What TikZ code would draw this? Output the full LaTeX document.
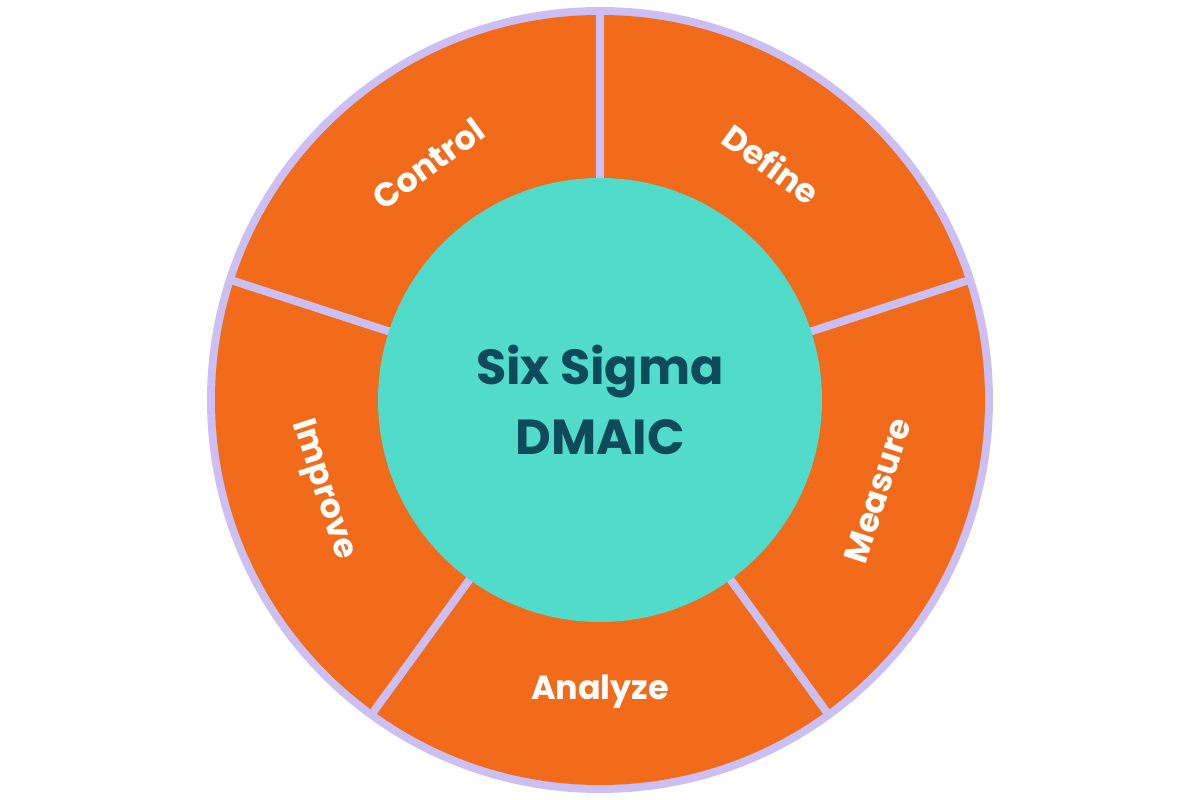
\documentclass[tikz,border=0pt]{standalone}
\usepackage{fontspec}
\setmainfont{Poppins}
\definecolor{ring}{HTML}{F26B1B}
\definecolor{rim}{HTML}{CBBFF3}
\definecolor{core}{HTML}{50DBCA}
\definecolor{ink}{HTML}{0E4A59}
\tikzset{
  phase/.style = {text = white, font = \bfseries\fontsize{9.5}{11}\selectfont}
}
\begin{document}
\begin{tikzpicture}

    \useasboundingbox (-6,-4) rectangle (6,4);

    % rim and orange ring
    \fill[rim] (0,0) circle (3.93);
    \fill[ring] (0,0) circle (3.85);

    % separators between the five steps
    \foreach \a in {90,18,-54,-126,162}
      \draw[rim, line width = 0.08cm] (\a:2.1) -- (\a:3.9);

    \node[circle,
          fill = core,
          minimum size = 4.44cm,
          inner sep = 0pt,
          align = center,
          text = ink,
          font = \bfseries\fontsize{14}{20}\selectfont
          ] (hub) at (0,0) {Six Sigma\\DMAIC};

    \node[phase, rotate = -36] (define) at (54:2.92) {Define};
    \node[phase, rotate = 72] (measure) at (-18:2.92) {Measure};
    \node[phase] (analyze) at (-90:2.92) {Analyze};
    \node[phase, rotate = -72] (improve) at (198:2.92) {Improve};
    \node[phase, rotate = 36] (control) at (126:2.92) {Control};

\end{tikzpicture}
\end{document}
